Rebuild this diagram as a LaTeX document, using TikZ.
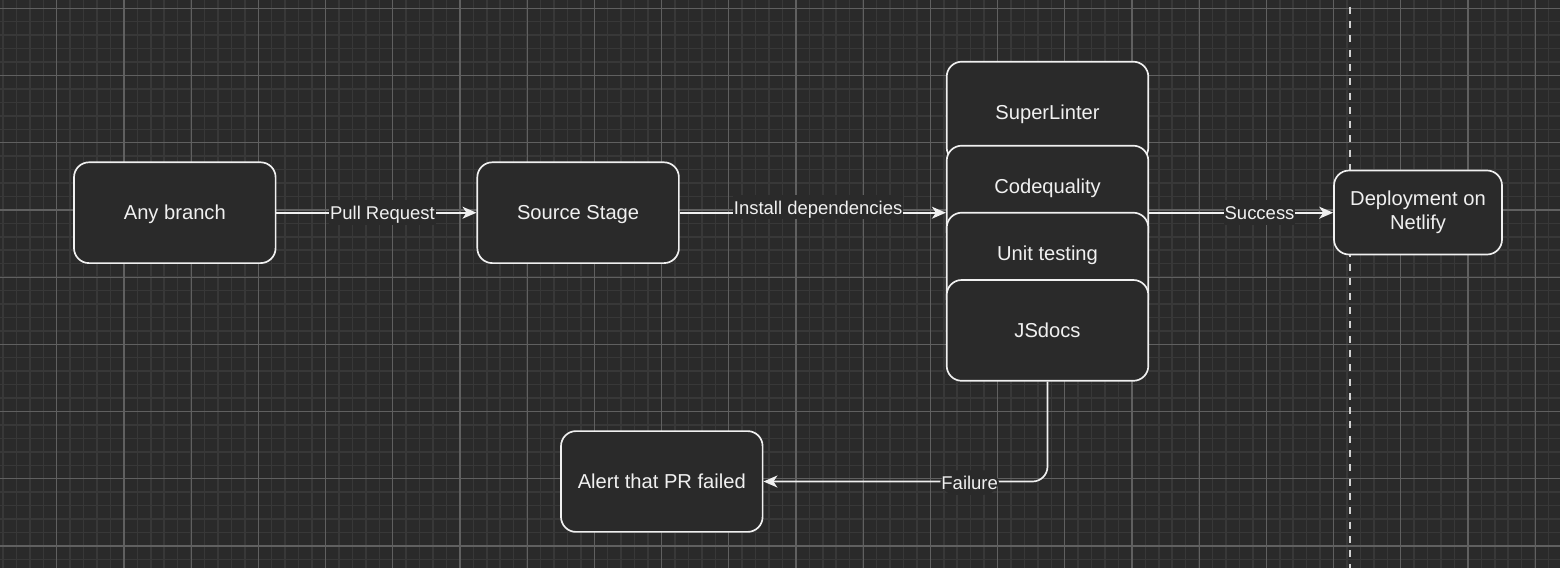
\documentclass[tikz,border=0pt]{standalone}
\usepackage{fontspec}
\setmainfont{Liberation Sans}
\usepackage{tikz}
\usetikzlibrary{arrows.meta, positioning}
\definecolor{canvasbg}{RGB}{42,42,42}
\definecolor{gridminor}{RGB}{56,56,56}
\definecolor{gridmajor}{RGB}{96,96,96}
\definecolor{strokewhite}{RGB}{240,240,240}
\definecolor{dashgray}{RGB}{210,210,210}

\begin{document}
\begin{tikzpicture}[
    x=1pt, y=-1pt,
    >={Stealth[length=14pt,width=12pt,inset=4pt]},
    stagetext/.style={text=strokewhite, font=\fontsize{20.16}{24.2}\selectfont},
    stage/.style={rectangle, rounded corners=15pt, draw=strokewhite, line width=1.68pt, fill=canvasbg, stagetext, minimum width=201.6pt, minimum height=100.8pt, inner sep=0pt, align=center},
    oneline/.style={text height=18.5pt, text depth=4.6pt},
    flow/.style={->, draw=strokewhite, line width=1.68pt},
    edgelabel/.style={fill=canvasbg, text=strokewhite, inner sep=1pt, text height=18.5pt, text depth=4pt, font=\fontsize{18.48}{22}\selectfont},
    divider/.style={draw=dashgray, line width=2pt, dash pattern=on 7pt off 7.3pt, dash phase=7.6pt}
]

\useasboundingbox (0,0) rectangle (1560,568);
\fill[canvasbg] (0,0) rectangle (1560,568);

% Grid
\foreach \i in {-4,...,111}
  \draw[gridminor, line width=1.5pt] ({56.7+13.44*\i},0) -- ({56.7+13.44*\i},568);
\foreach \j in {0,...,41}
  \draw[gridminor, line width=1.5pt] (0,{8.3+13.44*\j}) -- (1560,{8.3+13.44*\j});
\foreach \i in {0,...,22}
  \draw[gridmajor, line width=1.2pt] ({56.7+67.2*\i},0) -- ({56.7+67.2*\i},568);
\foreach \j in {0,...,8}
  \draw[gridmajor, line width=1.2pt] (0,{8.3+67.2*\j}) -- (1560,{8.3+67.2*\j});

% Divider
\draw[divider] (1350,0) -- (1350,568);

% Stages
\node[stage, oneline] (branch) at (174.8,212.7) {Any branch};
\node[stage, oneline] (source) at (578.1,212.7) {Source Stage};
\node[stage, oneline] (linter) at (1047.5,112.1) {SuperLinter};
\node[stage, label={[stagetext, oneline, yshift=9.3pt]center:Codequality}] (codeq) at (1047.5,196.1) {};
\node[stage, label={[stagetext, oneline, yshift=9.1pt]center:Unit testing}] (unit) at (1047.5,263.1) {};
\node[stage, oneline] (jsdocs) at (1047.5,330.4) {JSdocs};
\node[stage, minimum width=168pt, minimum height=84pt] (deploy) at (1418,212.5) {Deployment on\\Netlify};
\node[stage, oneline] (alert) at (661.8,481.5) {Alert that PR failed};

% Flow
\draw[flow] (branch) -- node[edgelabel, pos=0.53] {Pull Request} (source);
\draw[flow] (source) -- node[edgelabel, pos=0.52, yshift=5.6pt] {Install dependencies} (source.east -| codeq.west);
\draw[flow] (codeq.east |- branch.east) -- node[edgelabel, pos=0.6] {Success} (codeq.east |- branch.east -| deploy.west);
\draw[flow, rounded corners=15pt] (jsdocs) |- node[edgelabel, pos=0.637, yshift=-1pt] {Failure} (alert);

\end{tikzpicture}
\end{document}
